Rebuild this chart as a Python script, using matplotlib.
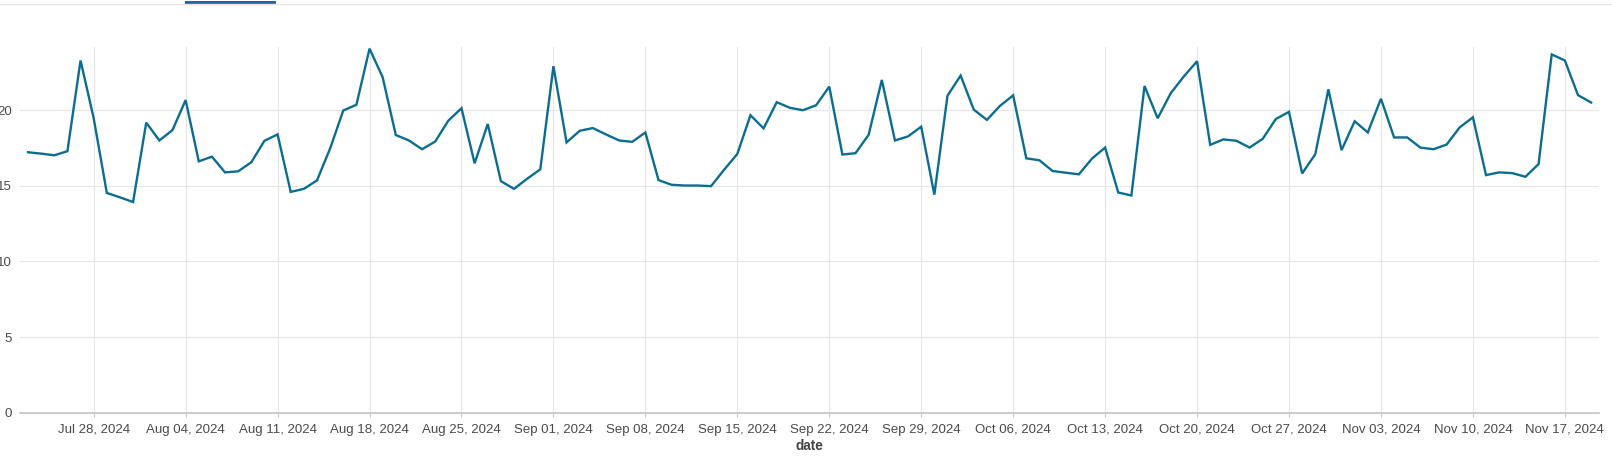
import numpy as np
import pandas as pd
import matplotlib
matplotlib.use("Agg")
import matplotlib.pyplot as plt
import matplotlib.dates as mdates
from matplotlib.patches import Rectangle
from matplotlib.lines import Line2D

# daily values, 2024-07-23 .. 2024-11-19
start_date = "2024-07-23"
values = [17.22, 17.13, 17.02, 17.29, 23.29, 19.47, 14.53, 14.24, 13.93, 19.18,
          18.00, 18.69, 20.67, 16.62, 16.93, 15.89, 15.96, 16.56, 17.98, 18.40,
          14.60, 14.80, 15.36, 17.47, 19.98, 20.36, 24.07, 22.18, 18.36, 18.00,
          17.42, 17.93, 19.31, 20.13, 16.49, 19.09, 15.31, 14.80, 15.47, 16.09,
          22.91, 17.87, 18.64, 18.82, 18.40, 18.00, 17.91, 18.53, 15.38, 15.07,
          15.02, 15.02, 14.98, 16.07, 17.11, 19.67, 18.80, 20.53, 20.16, 20.00,
          20.33, 21.56, 17.07, 17.16, 18.38, 22.00, 18.00, 18.27, 18.91, 14.42,
          20.96, 22.29, 20.04, 19.36, 20.29, 20.98, 16.82, 16.69, 15.98, 15.87,
          15.76, 16.80, 17.53, 14.56, 14.36, 21.60, 19.47, 21.13, 22.24, 23.24,
          17.71, 18.07, 17.98, 17.53, 18.11, 19.42, 19.89, 15.82, 17.09, 21.38,
          17.36, 19.27, 18.53, 20.76, 18.20, 18.20, 17.53, 17.42, 17.73, 18.87,
          19.53, 15.71, 15.89, 15.84, 15.60, 16.44, 23.69, 23.29, 21.00, 20.51]
y_ticks = [0, 5, 10, 15, 20]

dates = pd.date_range(start_date, periods=len(values), freq="D")

plt.rcParams['font.family'] = ['Liberation Sans', 'DejaVu Sans']

W, H = 1612, 466
fig = plt.figure(figsize=(W / 100, H / 100), dpi=100)
left, right, top, bottom = 20, 1599, 46.7, 412.7
ax = fig.add_axes([left / W, 1 - bottom / H, (right - left) / W, (bottom - top) / H])

ax.plot(dates, values, color="#0b6e91", linewidth=1.7, solid_joinstyle="miter")

t0 = pd.Timestamp(start_date)
ax.set_xlim(t0 - pd.Timedelta(days=0.61), t0 + pd.Timedelta(days=119.6))
ax.set_ylim(0, 24.2)
ax.set_yticks(y_ticks)

ax.xaxis.set_major_locator(mdates.WeekdayLocator(byweekday=mdates.SU))
ax.xaxis.set_major_formatter(mdates.DateFormatter("%b %d, %Y"))

ax.grid(True, color="#e6e6e6", linewidth=0.8)
ax.set_axisbelow(True)
for side in ["top", "right", "left"]:
    ax.spines[side].set_visible(False)
ax.spines["bottom"].set_color("#c4c4c4")
ax.spines["bottom"].set_linewidth(1.2)

ax.tick_params(axis="x", length=3, color="#c4c4c4", pad=5, labelsize=9.5, labelcolor="#4a4a4a")
ax.tick_params(axis="y", length=0, pad=6, labelsize=9.5, labelcolor="#4a4a4a")
ax.set_xlabel("date", fontsize=9.8, fontweight="bold", color="#444444", labelpad=2)

# tab strip above the chart
fig.add_artist(Line2D([0, 1], [1 - 4.3 / H, 1 - 4.3 / H], transform=fig.transFigure,
                      color="#e3e3e3", linewidth=1))
fig.add_artist(Rectangle((185 / W, 1 - 4.3 / H), 91 / W, 3.2 / H, transform=fig.transFigure,
                         facecolor="#2563a8", edgecolor="none"))

fig.savefig("out.png", dpi=100)
